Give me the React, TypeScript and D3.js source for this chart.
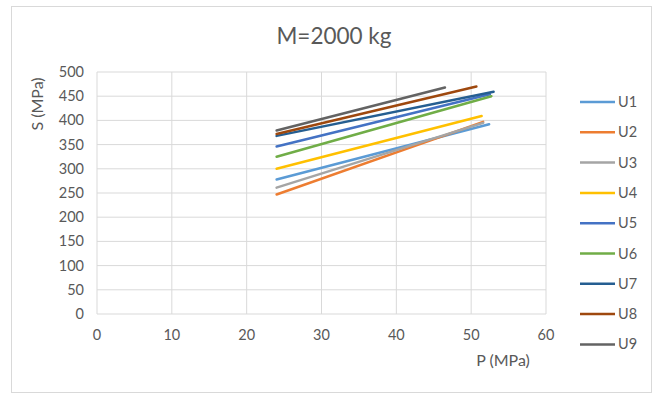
import React from "react";
import * as d3 from "d3";

// Series: pressure P (MPa) at the two end points and the corresponding S (MPa)
const seriesNames = ["U1", "U2", "U3", "U4", "U5", "U6", "U7", "U8", "U9"];
const pStart = [24, 24, 24, 24, 24, 24, 24, 24, 24];
const pEnd = [52.4, 51.6, 51.6, 51.4, 52.5, 52.7, 53, 50.7, 46.5];
const sStart = [278, 247, 261, 300, 346, 325, 368, 372, 379];
const sEnd = [392, 397, 395, 409, 454, 450, 459, 470, 468];
const seriesColors = [
  "#5B9BD5", "#ED7D31", "#A5A5A5", "#FFC000", "#4472C4",
  "#70AD47", "#255E91", "#9E480E", "#636363",
];

const xTicks = [0, 10, 20, 30, 40, 50, 60];
const yTicks = [0, 50, 100, 150, 200, 250, 300, 350, 400, 450, 500];

const W = 657;
const H = 394;
const FONT = "Lato, 'Open Sans', 'Liberation Sans', sans-serif";
const TEXT = "#595959";
const GRID = "#D9D9D9";

export default function App() {
  const x = d3.scaleLinear().domain([0, 60]).range([97, 546]);
  const y = d3.scaleLinear().domain([0, 500]).range([314, 72]);
  const line = d3
    .line<[number, number]>()
    .x((d) => x(d[0]))
    .y((d) => y(d[1]));

  return (
    <svg
      width={W}
      height={H}
      style={{ position: "absolute", left: 0, top: 0, background: "#fff" }}
      fontFamily={FONT}
    >
      <rect x={11.5} y={6.5} width={640} height={386} fill="#fff" stroke={GRID} />

      {/* gridlines */}
      {yTicks.map((t) => (
        <line key={"gy" + t} x1={x(0)} x2={x(60)} y1={y(t)} y2={y(t)} stroke={GRID} strokeWidth={1} />
      ))}
      {xTicks.map((t) => (
        <line key={"gx" + t} x1={x(t)} x2={x(t)} y1={y(0)} y2={y(500)} stroke={GRID} strokeWidth={1} />
      ))}

      {/* tick labels */}
      {yTicks.map((t) => (
        <text key={"ly" + t} x={84} y={y(t)} dy="0.35em" textAnchor="end" fontSize={14.5} fill={TEXT}>
          {t}
        </text>
      ))}
      {xTicks.map((t) => (
        <text key={"lx" + t} x={x(t)} y={335} dy="0.35em" textAnchor="middle" fontSize={14.5} fill={TEXT}>
          {t}
        </text>
      ))}

      {/* series */}
      {seriesNames.map((name, i) => (
        <path
          key={name}
          d={line([[pStart[i], sStart[i]], [pEnd[i], sEnd[i]]]) || ""}
          fill="none"
          stroke={seriesColors[i]}
          strokeWidth={2.5}
          strokeLinecap="round"
        />
      ))}

      {/* titles */}
      <text x={334} y={36} dy="0.35em" textAnchor="middle" fontSize={22.5} fill={TEXT}>
        M=2000 kg
      </text>
      <text
        transform={`translate(37,104) rotate(-90)`}
        dy="0.35em"
        textAnchor="middle"
        fontSize={16}
        fill={TEXT}
      >
        S (MPa)
      </text>
      <text x={503} y={360} dy="0.35em" textAnchor="middle" fontSize={16} fill={TEXT}>
        P (MPa)
      </text>

      {/* legend */}
      {seriesNames.map((name, i) => {
        const ly = 102 + i * 30.3;
        return (
          <g key={"leg" + name}>
            <line x1={580} x2={615} y1={ly} y2={ly} stroke={seriesColors[i]} strokeWidth={2.5} />
            <text x={618} y={ly} dy="0.35em" fontSize={14.5} fill={TEXT}>
              {name}
            </text>
          </g>
        );
      })}
    </svg>
  );
}
